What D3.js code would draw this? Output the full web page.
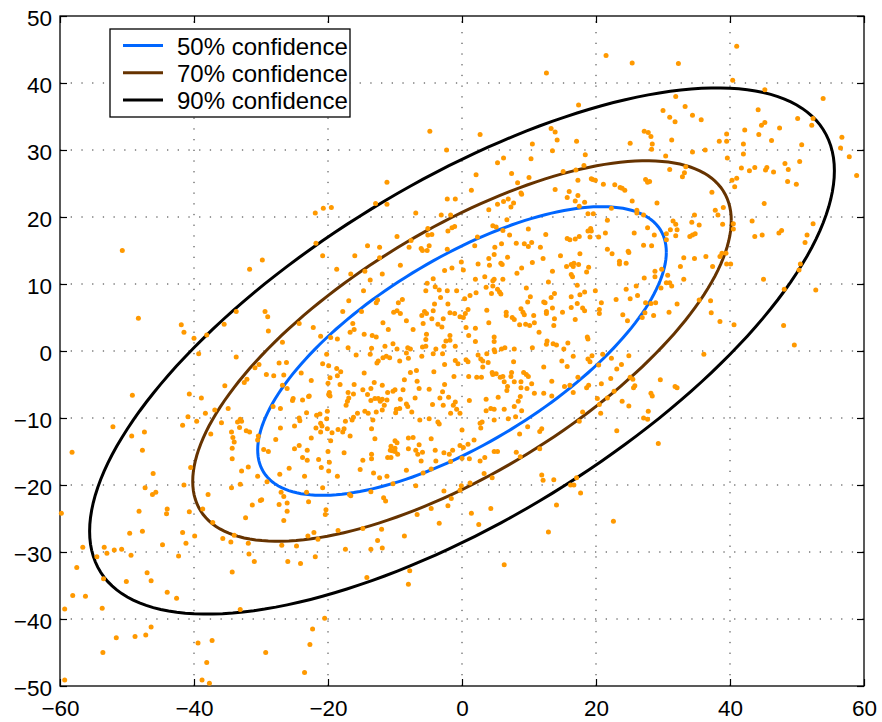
<!DOCTYPE html>
<html>
<head>
  <meta charset="utf-8">
  <title>Confidence ellipses</title>
  <script src="https://d3js.org/d3.v7.min.js"></script>
  <style>
    body { margin: 0; background: #fff; }
    text { font-family: "Liberation Sans", Arial, sans-serif; }
  </style>
</head>
<body>
  <div id="chart"></div>

  <script>
    // tick values
    var xTicks = [-60, -40, -20, 0, 20, 40, 60];
    var yTicks = [-50, -40, -30, -20, -10, 0, 10, 20, 30, 40, 50];

    // ellipse settings
    var center = [0, 0];
    var sigmaX = 25.9, sigmaY = 18.3, rho = 0.685;
    var levels = [0.5, 0.7, 0.9];
    var levelNames = ["50% confidence", "70% confidence", "90% confidence"];
    var levelColors = ["#0066ff", "#663300", "#000000"];

    // sample points [x, y]
    var samples = [
      [-50.7,15.0],[-48.3,4.9],[-41.9,3.9],[-41.5,2.8],[-40.0,1.9],[-38.1,2.4],[-35.5,4.0],[-33.7,5.9],[-31.7,12.2],
      [-4.8,32.8],[-2.3,30.0],[-11.2,25.2],[-11.2,21.9],[-12.9,22.0],[-20.7,21.3],[-19.5,21.4],[-21.9,20.6],[-6.9,20.6],
      [-3.1,20.3],[-2.2,22.7],[-1.0,22.7],[-1.7,20.3],[-21.8,16.1],[-20.8,14.2],[-29.8,13.6],[-14.1,15.7],[-12.3,15.5],
      [-9.7,17.1],[-7.6,16.5],[-7.9,15.5],[-16.0,14.2],[-12.3,13.9],[-5.1,18.3],[-5.1,17.3],[-4.5,17.4],[-6.1,15.3],
      [-5.9,15.0],[-4.9,15.7],[-5.2,15.0],[-2.2,15.2],[-2.1,17.9],[-1.5,18.4],[-1.1,18.6],[-18.7,12.2],[-16.6,11.5],
      [-14.5,11.9],[-13.7,10.6],[-11.9,11.5],[-9.2,12.8],[-14.7,9.0],[-16.9,7.5],[-12.6,7.6],[-12.8,7.2],[-8.9,7.7],
      [-9.5,7.2],[-15.0,5.9],[-17.8,5.9],[-10.2,5.8],[-9.7,6.0],[-9.2,5.6],[-4.3,10.8],[-5.2,10.1],[-4.0,9.6],[-5.4,9.0],
      [-3.4,9.1],[-3.2,8.0],[-2.2,9.0],[-0.8,9.0],[-2.6,12.0],[-1.5,12.4],[-0.1,13.3],[-4.1,7.0],[-4.3,6.0],[-5.6,5.9],
      [-5.3,5.6],[-6.0,5.3],[-4.5,4.8],[-2.1,7.0],[-1.8,5.7],[-1.1,5.6],[-0.3,5.1],[-2.8,4.8],[-3.6,4.0],[-3.0,3.6],
      [-5.8,4.1],[-7.3,3.2],[-8.3,4.5],[-11.0,3.2],[-11.8,4.2],[-29.4,5.9],[-29.0,5.1],[-28.9,3.0],[-24.3,4.1],[-22.2,3.5],
      [-26.8,1.3],[-21.1,2.2],[-19.6,2.0],[-18.6,1.8],[-16.3,4.1],[-16.7,2.8],[-16.1,3.2],[-14.6,2.5],[-13.4,2.3],
      [-12.8,2.1],[-17.0,0.5],[-13.5,0.4],[-11.5,0.7],[-10.3,1.1],[-9.7,0.3],[-8.1,0.5],[-7.7,0.3],[-5.9,0.6],[-5.4,0.7],
      [-5.4,1.7],[-5.3,2.5],[-3.9,0.3],[-2.7,0.7],[-2.4,1.5],[-1.8,1.6],[-1.8,2.3],[-1.0,0.7],
      [21.5,44.1],[25.4,43.0],[12.6,41.5],[17.4,36.7],[2.7,32.3],[13.3,33.2],[13.9,32.7],[14.2,31.5],[17.1,31.3],
      [13.5,29.9],[10.5,30.9],[18.4,29.3],[18.2,27.7],[10.3,28.7],[6.2,28.8],[5.3,28.1],[2.1,26.3],[7.4,26.5],[15.1,26.8],
      [17.0,27.0],[17.3,25.5],[10.0,25.9],[8.3,25.1],[1.4,24.0],[8.8,23.6],[8.9,23.4],[13.9,24.1],[16.0,23.8],[15.7,22.9],
      [17.3,23.2],[19.3,25.7],[19.5,25.6],[19.9,25.5],[21.1,24.9],[22.8,24.8],[23.6,24.4],[23.9,24.3],[24.3,24.0],
      [25.1,31.0],[27.2,32.8],[27.8,32.6],[28.2,32.0],[28.4,30.9],[28.3,30.1],[27.4,25.6],[27.7,25.2],[28.0,25.3],
      [29.1,22.1],[25.4,22.4],[16.9,22.4],[17.5,21.6],[18.3,22.2],[6.9,22.7],[6.2,22.3],[5.3,21.9],[4.0,21.1],[7.3,21.5],
      [7.7,22.1],[18.8,20.5],[19.6,20.5],[22.3,21.3],[26.1,21.0],[26.1,20.6],[27.1,20.3],[6.7,19.6],[4.6,18.7],[5.1,18.5],
      [6.1,18.0],[9.9,18.2],[21.7,19.5],[27.7,18.4],[2.3,17.0],[1.9,15.7],[7.1,17.3],[12.5,17.4],[8.1,16.1],[9.3,16.0],
      [9.9,15.6],[10.4,16.2],[5.9,16.0],[4.9,15.5],[11.7,15.5],[15.7,16.8],[16.1,16.6],[16.9,16.7],[17.5,17.1],[18.8,17.9],
      [19.2,18.3],[19.3,17.9],[19.1,17.0],[20.4,17.0],[21.4,17.6],[25.7,17.6],[28.7,17.3],[27.1,15.8],[28.3,15.7],
      [4.8,14.4],[4.0,13.8],[6.8,14.0],[12.1,13.8],[14.7,14.2],[17.6,14.5],[21.7,15.2],[22.4,14.5],[24.8,14.9],[24.9,14.7],
      [0.2,12.1],[2.4,13.0],[4.1,12.8],[5.8,13.1],[6.0,12.9],[8.9,12.4],[10.5,13.2],[8.2,11.6],[13.5,11.9],[15.6,12.6],
      [16.3,12.9],[16.7,13.1],[17.4,12.9],[16.6,12.6],[18.9,12.5],[18.6,11.8],[23.5,13.4],[23.5,13.0],[24.5,13.1],
      [28.8,11.9],[28.8,11.1],[29.8,12.2],[2.0,10.7],[3.4,11.1],[6.1,10.7],[4.8,10.7],[4.6,10.5],[12.9,10.3],[16.3,11.4],
      [16.5,11.1],[17.2,9.8],[19.9,9.0],[27.2,10.9],[29.7,9.4],[0.4,7.8],[1.2,8.3],[2.1,8.7],[3.6,9.5],[4.4,8.6],[4.6,9.7],
      [5.3,9.2],[5.6,8.8],[5.8,8.5],[9.6,9.4],[10.2,8.1],[9.8,7.3],[12.2,7.3],[12.4,7.2],[13.8,8.6],[13.3,8.0],[16.3,8.1],
      [17.2,7.1],[17.6,8.4],[18.3,8.8],[20.8,7.2],[23.0,7.7],[24.5,9.2],[25.1,7.8],[26.0,9.7],[26.2,8.3],[27.4,7.2],
      [28.2,7.1],[28.9,7.2],[0.9,6.2],[0.5,5.6],[0.2,5.0],[3.7,6.1],[4.0,4.2],[6.6,5.8],[6.6,5.3],[7.5,5.0],[7.8,4.7],
      [8.8,6.3],[9.1,5.8],[9.3,5.4],[10.7,5.3],[10.8,4.2],[8.6,3.9],[9.5,4.0],[10.1,3.8],[13.5,6.4],[12.6,5.9],[12.6,5.6],
      [13.8,4.8],[13.7,3.8],[15.0,5.8],[16.3,6.5],[16.9,4.7],[18.0,6.4],[18.3,6.0],[20.5,6.2],[20.5,5.6],[24.0,5.4],
      [24.7,4.5],[26.9,5.0],[27.3,5.7],[28.6,5.3],[0.6,3.5],[2.0,3.4],[1.0,2.3],[2.0,1.4],[4.8,2.1],[4.8,1.4],[11.5,2.8],
      [18.7,2.1],[18.8,1.8],[12.7,1.5],[12.6,1.0],[13.6,1.1],[14.1,0.9],[15.8,1.2],[15.2,0.3],[10.5,0.5],[7.8,0.3],
      [5.9,0.3],[6.4,0.5],[4.8,0.2],
      [41.0,45.5],[32.3,42.9],[40.4,40.4],[45.2,39.0],[53.9,37.7],[31.9,38.0],[30.0,35.9],[33.3,36.5],[31.0,34.9],
      [34.4,35.2],[31.8,34.2],[35.7,34.5],[44.2,36.0],[44.7,33.7],[45.2,34.1],[42.2,33.0],[47.4,33.3],[50.1,34.7],
      [52.4,34.7],[52.2,33.7],[39.5,32.4],[38.4,31.3],[39.5,31.3],[44.3,32.3],[46.2,31.4],[42.0,30.9],[31.3,31.5],
      [50.7,30.8],[56.7,31.9],[56.5,30.3],[57.8,29.0],[58.9,26.2],[30.4,29.1],[34.4,29.7],[36.3,30.0],[39.6,28.8],
      [42.0,29.4],[48.2,28.0],[50.4,28.3],[48.7,27.1],[31.0,27.1],[33.4,27.5],[33.2,26.6],[32.9,26.0],[41.7,27.3],
      [42.9,26.9],[43.7,27.4],[45.5,27.4],[45.3,27.0],[46.5,26.7],[48.6,25.3],[49.9,24.9],[40.3,25.5],[41.0,25.8],
      [40.7,24.5],[37.3,23.7],[45.1,22.0],[39.0,21.4],[37.8,21.0],[38.2,20.3],[34.7,20.3],[31.5,19.4],[31.9,18.9],
      [34.3,19.2],[35.4,18.8],[38.9,18.9],[40.5,19.0],[40.5,18.2],[43.3,19.4],[52.4,19.0],[47.7,18.0],[47.3,17.6],
      [51.5,17.3],[51.2,16.2],[44.8,17.3],[43.7,17.1],[30.5,17.5],[30.5,16.6],[31.1,18.1],[32.1,18.1],[31.9,17.2],
      [34.0,17.1],[34.4,17.3],[34.8,17.5],[33.1,13.9],[34.7,13.8],[36.4,14.1],[38.5,14.1],[38.8,14.6],[39.4,14.6],
      [39.5,13.0],[40.1,13.0],[37.4,12.6],[32.6,12.6],[30.7,11.3],[33.1,10.7],[30.5,10.2],[31.0,10.2],[31.3,9.7],
      [45.0,10.7],[50.5,13.0],[50.3,12.1],[48.1,9.2],[52.8,9.1],[35.4,7.6],[37.1,7.5],[32.1,7.0],[30.9,5.8],[37.2,5.7],
      [38.5,4.4],[40.6,3.9],[48.0,3.8],[49.6,0.9],
      [-39.3,-0.4],[-49.2,-6.6],[-40.7,-6.4],[-38.9,-7.0],[-35.4,-5.2],[-33.7,-0.9],[-30.9,-2.5],[-30.3,-2.0],[-32.5,-4.7],
      [-32.1,-4.2],[-38.3,-9.3],[-36.9,-8.8],[-34.9,-8.6],[-40.9,-9.8],[-39.6,-10.5],[-41.7,-11.1],[-35.9,-10.7],
      [-33.5,-10.6],[-33.1,-10.2],[-32.9,-10.5],[-33.2,-11.4],[-37.5,-12.4],[-34.4,-12.1],[-32.2,-11.9],[-31.7,-12.1],
      [-30.4,-12.7],[-30.5,-13.3],[-34.2,-12.9],[-34.0,-13.6],[-34.3,-14.5],[-34.3,-16.1],[-32.9,-17.9],[-31.9,-17.3],
      [-30.5,-18.7],[-52.1,-11.3],[-49.3,-12.7],[-47.4,-12.1],[-58.2,-15.1],[-47.7,-14.8],[-40.5,-17.4],[-46.1,-18.3],
      [-47.3,-20.4],[-46.2,-21.4],[-45.7,-21.1],[-41.5,-20.0],[-37.9,-21.4],[-33.1,-19.9],[-34.4,-20.4],[-30.1,-22.3],
      [-59.8,-24.2],[-48.2,-23.9],[-44.0,-23.6],[-44.1,-24.3],[-40.7,-24.0],[-38.7,-23.6],[-37.2,-25.6],[-31.3,-23.0],
      [-32.3,-24.9],[-49.6,-27.2],[-47.7,-26.9],[-41.7,-27.1],[-39.9,-27.6],[-41.2,-28.7],[-44.7,-28.9],[-35.7,-28.0],
      [-34.5,-28.5],[-34.0,-27.5],[-31.9,-28.7],[-56.6,-29.3],[-53.4,-29.3],[-53.0,-30.2],[-51.9,-29.7],[-50.8,-29.6],
      [-49.4,-30.5],[-54.5,-30.7],[-42.3,-30.6],[-31.8,-30.3],[-31.0,-31.4],[-57.5,-32.3],[-53.5,-34.0],[-50.1,-34.4],
      [-47.0,-33.1],[-46.4,-34.3],[-34.3,-33.0],[-58.1,-36.5],[-56.2,-36.6],[-59.3,-38.5],[-53.7,-38.4],[-44.0,-36.0],
      [-42.6,-36.9],[-33.1,-38.6],[-46.4,-41.2],[-47.2,-42.4],[-48.8,-42.6],[-51.6,-42.8],[-53.6,-45.0],[-39.4,-43.6],
      [-37.3,-43.2],[-38.1,-46.5],[-38.8,-49.1],[-37.7,-49.6],[-59.3,-49.1],
      [-20.2,-0.5],[-15.8,-0.6],[-13.7,-0.5],[-12.5,-1.5],[-12.7,-1.8],[-11.8,-1.0],[-11.3,-0.8],[-10.8,-1.0],[-9.3,-1.5],
      [-8.3,-0.3],[-8.0,-1.1],[-6.0,-0.8],[-4.3,-0.4],[-2.9,-0.4],[-2.6,-2.0],[-1.0,-1.4],[-0.6,-1.9],[-27.3,-1.8],
      [-26.2,-1.7],[-29.2,-3.5],[-28.1,-3.7],[-26.6,-3.6],[-24.0,-3.3],[-20.8,-1.9],[-19.9,-2.2],[-18.7,-2.6],[-18.1,-3.1],
      [-18.6,-3.7],[-19.7,-4.0],[-20.0,-4.8],[-22.5,-4.4],[-18.2,-5.0],[-14.6,-3.3],[-13.1,-4.7],[-13.6,-5.6],[-11.9,-5.1],
      [-14.8,-5.8],[-16.1,-5.0],[-17.0,-6.2],[-16.2,-6.4],[-19.8,-6.2],[-19.9,-6.5],[-19.7,-6.7],[-16.9,-7.0],[-17.1,-7.5],
      [-17.3,-8.1],[-26.8,-5.1],[-26.1,-5.6],[-25.2,-7.1],[-25.3,-7.4],[-23.8,-7.3],[-22.9,-6.8],[-22.8,-6.7],[-28.2,-8.3],
      [-27.1,-8.6],[-23.2,-9.2],[-21.7,-9.6],[-21.2,-9.4],[-20.1,-9.0],[-20.2,-10.1],[-24.3,-10.0],[-24.2,-10.4],
      [-25.0,-11.2],[-21.1,-10.8],[-20.9,-11.2],[-21.8,-11.5],[-21.1,-12.1],[-20.1,-11.6],[-19.4,-12.2],[-18.5,-11.7],
      [-17.6,-11.6],[-17.8,-12.1],[-17.4,-10.5],[-16.2,-9.9],[-16.4,-10.3],[-15.6,-9.3],[-14.5,-9.0],[-14.0,-9.3],
      [-12.8,-9.1],[-13.3,-10.3],[-13.6,-7.4],[-13.0,-7.1],[-12.5,-7.1],[-12.2,-7.5],[-11.9,-7.2],[-11.6,-8.1],[-11.2,-7.3],
      [-11.9,-8.8],[-11.1,-6.2],[-10.3,-6.0],[-10.0,-5.8],[-9.2,-7.2],[-8.3,-7.9],[-8.1,-8.3],[-8.8,-5.8],[-9.8,-8.7],
      [-9.9,-9.2],[-9.3,-8.6],[-7.5,-9.1],[-7.0,-7.0],[-8.6,-4.3],[-7.7,-3.2],[-6.8,-2.9],[-6.7,-4.5],[-6.3,-10.3],
      [-4.9,-10.1],[-3.6,-10.6],[-3.4,-10.9],[-4.4,-8.0],[-2.8,-8.1],[-3.3,-7.0],[-2.0,-6.9],[-1.3,-8.1],[-1.7,-9.3],
      [-1.0,-7.6],[-0.3,-9.3],[-0.8,-8.7],[-2.9,-6.1],[-2.6,-5.0],[-1.2,-3.8],[-4.2,-3.1],[-4.9,-5.7],[-6.4,-5.6],
      [-27.8,-13.2],[-27.1,-11.5],[-22.5,-13.0],[-25.0,-14.6],[-24.3,-14.1],[-23.1,-14.8],[-29.6,-14.7],[-28.9,-15.0],
      [-23.8,-15.9],[-23.1,-16.3],[-21.4,-16.2],[-20.0,-15.0],[-19.6,-13.4],[-16.7,-12.7],[-17.6,-15.2],[-21.0,-17.4],
      [-19.8,-16.6],[-19.9,-17.9],[-18.6,-18.7],[-14.8,-16.3],[-13.5,-15.4],[-13.5,-16.1],[-15.2,-17.7],[-13.2,-18.2],
      [-12.3,-18.9],[-11.2,-18.7],[-25.8,-17.5],[-27.2,-18.4],[-23.5,-18.7],[-29.1,-19.5],[-10.7,-14.8],[-10.4,-14.9],
      [-11.1,-15.9],[-10.6,-15.9],[-10.0,-15.0],[-9.6,-15.4],[-10.6,-14.2],[-10.0,-14.5],[-10.0,-13.4],[-9.7,-13.7],
      [-8.0,-13.0],[-7.3,-12.9],[-8.0,-14.6],[-6.9,-14.8],[-6.4,-14.0],[-5.9,-15.1],[-6.1,-16.4],[-6.6,-15.4],[-4.6,-13.1],
      [-4.0,-14.8],[-1.4,-14.8],[-2.7,-15.2],[-1.9,-15.4],[-0.3,-14.1],[-3.9,-16.4],[-1.7,-16.5],[-8.3,-17.8],[-5.8,-18.2],
      [-4.6,-17.6],[-10.3,-19.8],[-6.9,-20.1],[-13.6,-21.0],[-16.8,-21.4],[-16.6,-21.6],[-20.8,-20.4],[-23.2,-21.1],
      [-22.9,-22.5],[-27.0,-21.1],[-26.6,-21.7],[-27.3,-22.9],[-26.1,-22.7],[-26.1,-23.9],[-26.6,-25.3],[-29.9,-22.2],
      [-20.3,-23.7],[-20.4,-24.4],[-11.7,-21.9],[-11.4,-22.4],[-6.7,-24.4],[-4.6,-23.5],[-3.4,-25.7],[-2.7,-20.9],
      [-2.1,-23.1],[-1.6,-22.0],[-0.3,-20.8],[-0.1,-20.1],[-23.0,-27.6],[-22.1,-27.1],[-21.5,-28.1],[-18.5,-26.8],
      [-14.8,-26.5],[-12.0,-26.6],[-8.6,-27.6],[-12.6,-28.3],[-26.9,-29.0],[-24.7,-29.1],[-17.4,-29.6],[-13.6,-29.6],
      [-11.9,-29.4],[-26.0,-31.4],[-24.1,-31.7],[-21.9,-30.7],[-14.2,-33.8],[-7.8,-32.8],[-8.0,-34.8],[-20.5,-39.9],
      [-22.3,-41.5],[-22.7,-43.8],[-29.3,-45.0],[-23.5,-48.0],[-13.5,-11.6],[-13.0,-13.1],[-14.1,-6.5],
      [0.6,-1.3],[0.9,-1.6],[2.4,-0.6],[2.8,-1.2],[3.1,-1.5],[3.1,-2.4],[3.7,-0.4],[3.9,-1.7],[4.9,-0.1],[7.7,-1.6],
      [12.2,-2.4],[1.0,-3.8],[2.2,-3.9],[2.9,-3.9],[4.5,-3.2],[4.6,-3.5],[5.1,-3.4],[5.7,-3.9],[6.1,-3.8],[6.3,-4.6],
      [7.4,-3.2],[7.3,-3.8],[7.8,-4.6],[6.8,-5.3],[6.7,-5.9],[8.8,-4.6],[9.2,-3.2],[9.6,-3.5],[9.9,-3.8],[10.4,-4.9],
      [8.8,-5.5],[9.7,-5.6],[10.8,-6.3],[12.2,-6.3],[13.4,-4.5],[13.4,-6.7],[14.9,-1.5],[15.7,-2.3],[16.6,-0.8],
      [15.3,-5.3],[16.1,-5.1],[16.6,-6.2],[17.3,-3.9],[18.6,-5.5],[18.9,-5.1],[18.8,-1.2],[19.1,-1.6],[19.4,-0.7],
      [21.0,-0.5],[20.4,-2.1],[22.3,-1.1],[23.1,-2.7],[23.8,-2.0],[24.9,-0.7],[22.2,-4.1],[20.8,-4.9],[25.1,-3.9],
      [25.5,-4.2],[25.8,-5.2],[25.6,-5.5],[29.6,-4.3],[22.7,-6.0],[21.7,-7.0],[23.9,-7.5],[24.9,-8.2],[20.2,-7.1],
      [20.5,-8.0],[20.7,-9.3],[18.0,-9.1],[17.5,-10.5],[28.2,-6.3],[28.4,-6.7],[27.8,-9.0],[27.1,-10.0],[27.7,-10.2],
      [23.1,-11.9],[29.3,-13.8],[1.1,-7.4],[3.6,-7.2],[5.4,-6.9],[3.6,-8.9],[4.3,-8.6],[4.8,-8.7],[6.3,-8.7],[7.8,-8.3],
      [8.4,-7.5],[8.7,-6.8],[8.9,-8.9],[6.9,-10.1],[8.0,-9.8],[4.8,-10.3],[3.0,-10.6],[2.7,-10.8],[2.8,-11.5],[0.0,-11.8],
      [9.8,-11.3],[8.6,-12.4],[11.6,-12.0],[11.9,-11.6],[1.8,-13.3],[0.9,-13.9],[0.2,-14.4],[1.1,-16.1],[0.0,-16.0],
      [2.7,-16.4],[3.4,-15.9],[4.8,-15.0],[5.3,-15.0],[8.1,-15.1],[8.7,-15.8],[11.6,-14.6],[3.3,-18.3],[4.5,-18.9],
      [1.2,-19.7],[11.9,-18.5],[12.1,-19.3],[13.7,-19.2],[17.1,-18.9],[16.2,-20.0],[16.7,-20.0],[17.7,-21.2],[14.1,-23.0],
      [4.3,-23.5],[1.4,-24.2],[2.5,-25.9],[22.6,-25.4],[12.9,-27.0],[6.3,-31.9],
      [36.1,-0.5],[31.8,-5.3],[32.1,-5.5]
    ];

    var W = 882, H = 722;
    var margin = {top: 16, right: 18, bottom: 36, left: 60};

    var svg = d3.select("#chart").append("svg")
      .attr("width", W)
      .attr("height", H);

    var x = d3.scaleLinear().domain([-60, 60]).range([margin.left, W - margin.right]);
    var y = d3.scaleLinear().domain([-50, 50]).range([H - margin.bottom, margin.top]);

    // dotted grid
    var grid = svg.append("g")
      .attr("stroke", "#333")
      .attr("stroke-width", 1)
      .attr("stroke-dasharray", "1.3,9.4");
    grid.selectAll(".gx").data(xTicks.slice(1, -1)).enter().append("line")
      .attr("x1", function(d) { return x(d); }).attr("x2", function(d) { return x(d); })
      .attr("y1", y(-50)).attr("y2", y(50));
    grid.selectAll(".gy").data(yTicks.slice(1, -1)).enter().append("line")
      .attr("y1", function(d) { return y(d); }).attr("y2", function(d) { return y(d); })
      .attr("x1", x(-60)).attr("x2", x(60));

    // axes with inward ticks on all sides
    var fontSize = "22.5px";
    var axBottom = svg.append("g")
      .attr("transform", "translate(0," + y(-50) + ")")
      .call(d3.axisBottom(x).tickValues(xTicks).tickSize(-7).tickPadding(14));
    var axLeft = svg.append("g")
      .attr("transform", "translate(" + x(-60) + ",0)")
      .call(d3.axisLeft(y).tickValues(yTicks).tickSize(-7).tickPadding(8));
    var axTop = svg.append("g")
      .attr("transform", "translate(0," + y(50) + ")")
      .call(d3.axisTop(x).tickValues(xTicks).tickSize(-7).tickFormat(""));
    var axRight = svg.append("g")
      .attr("transform", "translate(" + x(60) + ",0)")
      .call(d3.axisRight(y).tickValues(yTicks).tickSize(-7).tickFormat(""));

    [axBottom, axLeft, axTop, axRight].forEach(function(g) {
      g.select(".domain").remove();
      g.selectAll("line").attr("stroke", "#000").attr("stroke-width", 1.2);
      g.selectAll("text").attr("fill", "#000").style("font-size", fontSize)
        .style("font-family", "'Liberation Sans', Arial, sans-serif");
    });
    axLeft.selectAll("text").attr("dy", "0.44em");

    svg.append("rect")
      .attr("x", x(-60)).attr("y", y(50))
      .attr("width", x(60) - x(-60)).attr("height", y(-50) - y(50))
      .attr("fill", "none").attr("stroke", "#000").attr("stroke-width", 1.3);

    // confidence ellipses
    var steps = d3.range(0, 361, 2);
    var line = d3.line()
      .x(function(p) { return x(p[0]); })
      .y(function(p) { return y(p[1]); });

    levels.forEach(function(p, i) {
      var k = Math.sqrt(-2 * Math.log(1 - p));
      var pts = steps.map(function(deg) {
        var t = deg * Math.PI / 180;
        var px = center[0] + k * sigmaX * Math.cos(t);
        var py = center[1] + k * sigmaY * (rho * Math.cos(t) + Math.sqrt(1 - rho * rho) * Math.sin(t));
        return [px, py];
      });
      svg.append("path")
        .attr("d", line(pts))
        .attr("fill", "none")
        .attr("stroke", levelColors[i])
        .attr("stroke-width", 3);
    });

    // scattered samples
    svg.append("g").selectAll("circle")
      .data(samples)
      .enter().append("circle")
      .attr("cx", function(d) { return x(d[0]); })
      .attr("cy", function(d) { return y(d[1]); })
      .attr("r", 2.5)
      .attr("fill", "#ff9900");

    // legend
    var legend = svg.append("g");
    legend.append("rect")
      .attr("x", 110).attr("y", 29).attr("width", 240).attr("height", 88)
      .attr("fill", "#fff").attr("stroke", "#000").attr("stroke-width", 1.3);
    levelNames.forEach(function(name, i) {
      var ly = 45.5 + i * 27.3;
      legend.append("line")
        .attr("x1", 123).attr("x2", 163).attr("y1", ly).attr("y2", ly)
        .attr("stroke", levelColors[i]).attr("stroke-width", 3);
      legend.append("text")
        .attr("x", 177).attr("y", ly + 9)
        .style("font-size", "24px")
        .attr("fill", "#000")
        .text(name);
    });
  </script>
</body>
</html>
